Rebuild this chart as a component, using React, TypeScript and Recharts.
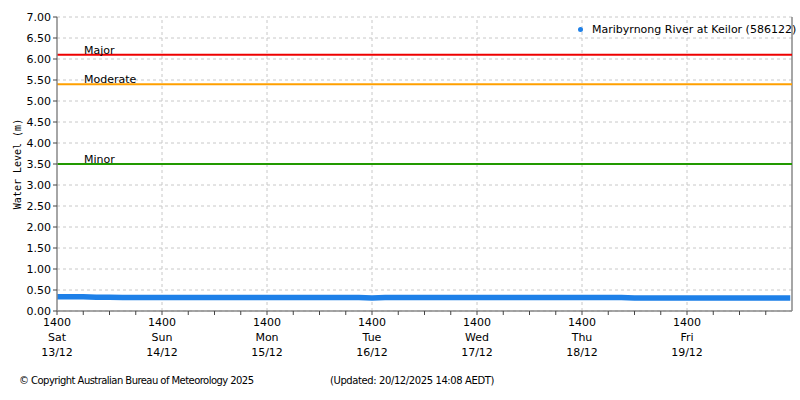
import React from "react";
import {
  CartesianGrid,
  Line,
  LineChart,
  ReferenceLine,
  XAxis,
  YAxis,
} from "recharts";

// hours since 1400 Sat 13/12
const hours = [
  0, 3, 6, 9, 12, 15, 18, 21, 24, 27, 30, 33, 36, 39, 42, 45, 48, 51, 54, 57,
  60, 63, 66, 69, 72, 75, 78, 81, 84, 87, 90, 93, 96, 99, 102, 105, 108, 111,
  114, 117, 120, 123, 126, 129, 132, 135, 138, 141, 144, 147, 150, 153, 156,
  159, 162, 165, 167.6,
];
const levels = [
  0.34, 0.34, 0.34, 0.33, 0.33, 0.32, 0.32, 0.32, 0.32, 0.32, 0.32, 0.32, 0.32,
  0.32, 0.32, 0.32, 0.32, 0.32, 0.32, 0.32, 0.32, 0.32, 0.32, 0.32, 0.31, 0.32,
  0.32, 0.32, 0.32, 0.32, 0.32, 0.32, 0.32, 0.32, 0.32, 0.32, 0.32, 0.32, 0.32,
  0.32, 0.32, 0.32, 0.32, 0.32, 0.31, 0.31, 0.31, 0.31, 0.31, 0.31, 0.31, 0.31,
  0.31, 0.31, 0.31, 0.31, 0.31,
];

const dayNames = ["Sat", "Sun", "Mon", "Tue", "Wed", "Thu", "Fri"];
const dayDates = ["13/12", "14/12", "15/12", "16/12", "17/12", "18/12", "19/12"];
const dayHours = [0, 24, 48, 72, 96, 120, 144];
const minorTicks = [
  0, 6, 12, 18, 24, 30, 36, 42, 48, 54, 60, 66, 72, 78, 84, 90, 96, 102, 108,
  114, 120, 126, 132, 138, 144, 150, 156, 162,
];
const levelTicks = [0, 0.5, 1, 1.5, 2, 2.5, 3, 3.5, 4, 4.5, 5, 5.5, 6, 6.5, 7];

const thresholds = [
  { name: "Major", value: 6.1, color: "#ee0000" },
  { name: "Moderate", value: 5.4, color: "#ffa000" },
  { name: "Minor", value: 3.5, color: "#229900" },
];

const data = hours.map((h, i) => ({ h, level: levels[i] }));

const FONT = "'DejaVu Sans', Verdana, sans-serif";

function DayTick(props: any) {
  const { x, y, payload } = props;
  const idx = dayHours.indexOf(payload.value);
  if (idx < 0) return null;
  return (
    <text x={x} y={y} textAnchor="middle" fontFamily={FONT} fontSize={11} fill="#000">
      <tspan x={x} dy={9}>1400</tspan>
      <tspan x={x} dy={15}>{dayNames[idx]}</tspan>
      <tspan x={x} dy={15}>{dayDates[idx]}</tspan>
    </text>
  );
}

function ThresholdLabel({ viewBox, value }: any) {
  return (
    <text x={viewBox.x + 27} y={viewBox.y - 1} fontFamily={FONT} fontSize={11} fill="#000">
      {value}
    </text>
  );
}

export default function App() {
  return (
    <div style={{ position: "absolute", left: 0, top: 0, width: 800, height: 400, background: "#fff" }}>
      <LineChart
        width={800}
        height={400}
        data={data}
        margin={{ top: 17, right: 8, bottom: 29, left: 0 }}
      >
        <CartesianGrid vertical={false} stroke="#c8c8c8" strokeDasharray="3 3" />
        {dayHours.slice(1).map((h) => (
          <ReferenceLine key={h} x={h} stroke="#c8c8c8" strokeDasharray="3 3" />
        ))}
        <ReferenceLine x={168} stroke="#888" strokeWidth={1.5} />
        <XAxis
          dataKey="h"
          type="number"
          domain={[0, 168]}
          ticks={minorTicks}
          interval={0}
          height={60}
          axisLine={{ stroke: "#888", strokeWidth: 1.5 }}
          tickLine={{ stroke: "#444" }}
          tickSize={4}
          tick={<DayTick />}
        />
        <YAxis
          type="number"
          domain={[0, 7]}
          ticks={levelTicks}
          interval={0}
          width={57}
          axisLine={{ stroke: "#888", strokeWidth: 1.5 }}
          tickLine={{ stroke: "#444" }}
          tickSize={4}
          tickFormatter={(v: number) => v.toFixed(2)}
          tick={{ fontFamily: FONT, fontSize: 11, fill: "#000" }}
          label={{
            value: "Water Level (m)",
            angle: -90,
            position: "insideLeft",
            offset: 17,
            style: { fontFamily: "'DejaVu Sans Mono', monospace", fontSize: 10, fill: "#000", textAnchor: "middle" },
          }}
        />
        {thresholds.map((t) => (
          <ReferenceLine
            key={t.name}
            y={t.value}
            stroke={t.color}
            strokeWidth={2}
            label={<ThresholdLabel value={t.name} />}
          />
        ))}
        <Line
          dataKey="level"
          stroke="#1e80e8"
          strokeWidth={5.5}
          dot={false}
          isAnimationActive={false}
        />
      </LineChart>
      <div
        style={{
          position: "absolute",
          left: 578,
          top: 23,
          fontFamily: FONT,
          fontSize: 11,
          display: "flex",
          alignItems: "center",
          whiteSpace: "nowrap",
        }}
      >
        <span style={{ width: 5, height: 5, borderRadius: "50%", background: "#1e80e8", marginRight: 9 }} />
        Maribyrnong River at Keilor (586122)
      </div>
      <div style={{ position: "absolute", left: 19, top: 375, fontFamily: FONT, fontSize: 10, letterSpacing: -0.55, whiteSpace: "nowrap" }}>
        © Copyright Australian Bureau of Meteorology 2025
      </div>
      <div style={{ position: "absolute", left: 330, top: 375, fontFamily: FONT, fontSize: 10, letterSpacing: -0.4, whiteSpace: "nowrap" }}>
        (Updated: 20/12/2025 14:08 AEDT)
      </div>
    </div>
  );
}
